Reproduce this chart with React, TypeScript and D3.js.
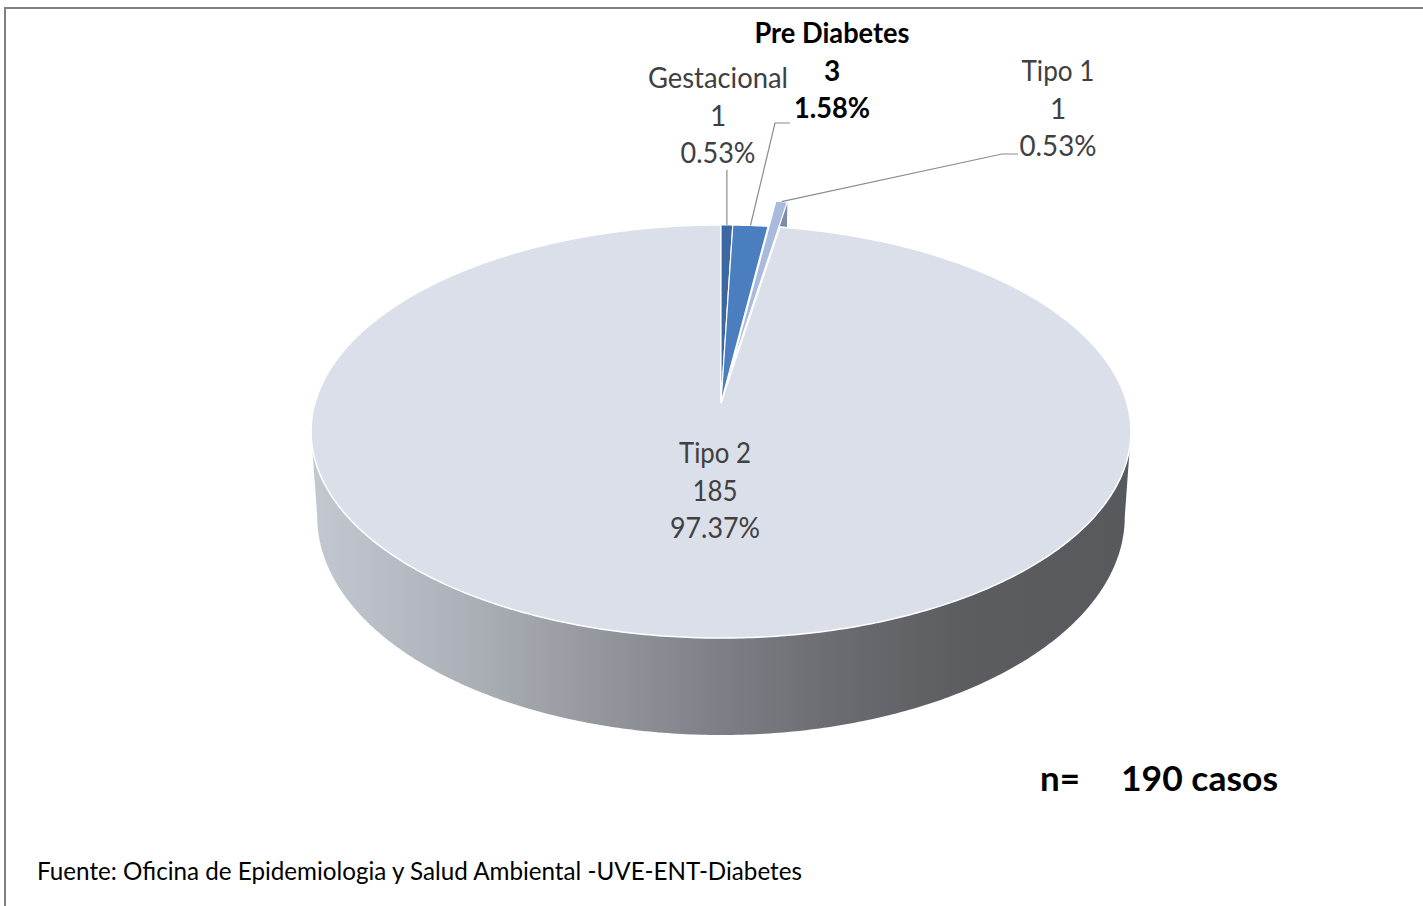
import * as d3 from "d3";

// datos: casos de diabetes por tipo
const categories = ["Gestacional", "Pre Diabetes", "Tipo 1", "Tipo 2"];
const counts = [1, 3, 1, 185];
const sliceColors = ["#3b68a1", "#4a7ebf", "#a9bbdc", "#dadfea"];
const explode = [0, 0, 0.165, 0];
const boldLabel = [false, true, false, false];
const totalText = "190 casos";
const sourceText = "Fuente: Oficina de Epidemiologia y Salud Ambiental -UVE-ENT-Diabetes";

// label layout: center x, first baseline, line widths, leader points (label side)
const labelLayout = [
  { x: 718, y: 88, w: [140, 0, 75], leader: [[727, 170]] },
  { x: 832, y: 43, w: [155, 0, 76], leader: [[790, 123], [775, 123]] },
  { x: 1058, y: 81, w: [73, 0, 77], leader: [[1018, 154], [1002, 154]] },
  { x: 715, y: 463, w: [72, 45, 90], leader: [] },
];

const W = 1423;
const H = 906;

// 3D pie projection (simple perspective)
const cx = 721;
const cy = 403;
const A = 202.6; // vertical radius factor
const B = 406; // horizontal radius factor
const K = 0.138; // perspective
const DEPTH = 83.6;
const SB = 0.985; // bottom shrink

type P = [number, number];

function proj(u: number, v: number, bottom = false): P {
  const s = 1 / (1 + K * v);
  const x = cx + B * u * s * (bottom ? SB : 1);
  const y = cy - A * v * s + (bottom ? DEPTH * s : 0);
  return [x, y];
}

function rim(a0: number, a1: number, off: [number, number], bottom = false): P[] {
  const n = Math.max(2, Math.ceil(Math.abs(a1 - a0) / 0.01));
  return d3.range(n + 1).map((i) => {
    const t = a0 + ((a1 - a0) * i) / n;
    return proj(Math.sin(t) + off[0], Math.cos(t) + off[1], bottom);
  });
}

const line = d3.line<P>().curve(d3.curveLinear);

export default function App() {
  const total = d3.sum(counts);
  const pie = d3.pie<number>().sort(null).startAngle(0).endAngle(2 * Math.PI)(counts);

  const slices = pie.map((a, i) => {
    const mid = (a.startAngle + a.endAngle) / 2;
    const off: [number, number] = [explode[i] * Math.sin(mid), explode[i] * Math.cos(mid)];
    const c = proj(off[0], off[1]);
    const top = "M" + c.join(",") + "L" + rim(a.startAngle, a.endAngle, off).map((p) => p.join(",")).join("L") + "Z";
    const midPt = proj(Math.sin(mid) + off[0], Math.cos(mid) + off[1]);
    return { a, i, off, top, mid, midPt };
  });

  // side of the big slice (front half)
  const tR = Math.acos(-K);
  const tL = 2 * Math.PI - tR;
  const sideTop = rim(tR, tL, [0, 0]);
  const sideBot = rim(tL, tR, [0, 0], true);
  const sidePath = line([...sideTop, ...sideBot]) + "Z";

  // exploded slice cut face (Tipo 1)
  const ex = slices[2];
  const e1 = ex.a.endAngle;
  const cutFace = line([
    proj(ex.off[0], ex.off[1]),
    proj(Math.sin(e1) + ex.off[0], Math.cos(e1) + ex.off[1]),
    proj(Math.sin(e1) + ex.off[0], Math.cos(e1) + ex.off[1], true),
    proj(ex.off[0], ex.off[1], true),
  ]) + "Z";
  const exSide = line([
    ...rim(ex.a.startAngle, ex.a.endAngle, ex.off),
    ...rim(ex.a.endAngle, ex.a.startAngle, ex.off, true),
  ]) + "Z";

  const font = "Lato, 'Open Sans', sans-serif";

  return (
    <svg width={W} height={H} style={{ position: "absolute", left: 0, top: 0, background: "#fff" }}>
      <defs>
        <linearGradient id="side" gradientUnits="userSpaceOnUse" x1={cx - B} x2={cx + B} y1={0} y2={0}>
          <stop offset="0" stopColor="#c3c8d0" />
          <stop offset="0.2" stopColor="#aaaeb5" />
          <stop offset="0.35" stopColor="#94979e" />
          <stop offset="0.5" stopColor="#7c7f85" />
          <stop offset="0.65" stopColor="#696b70" />
          <stop offset="0.8" stopColor="#5c5d61" />
          <stop offset="1" stopColor="#58595c" />
        </linearGradient>
      </defs>
      <rect x={5} y={8} width={1600} height={1200} fill="#fff" stroke="#7f7f7f" strokeWidth={2} />

      <path d={sidePath} fill="url(#side)" />
      <path d={exSide} fill="#8a9abb" />
      <path d={cutFace} fill="#7d8aa9" />
      <path d={slices[2].top} fill={sliceColors[2]} stroke="#fff" strokeWidth={1.2} />
      <path d={slices[3].top} fill={sliceColors[3]} stroke="#fff" strokeWidth={1.5} />
      {slices.slice(0, 2).map((s) => (
        <path key={s.i} d={s.top} fill={sliceColors[s.i]} stroke="#fff" strokeWidth={1.2} />
      ))}

      {slices.map((s) => {
        const L = labelLayout[s.i];
        if (!L.leader.length) return null;
        const pts: P[] = [...(L.leader as P[]), s.midPt];
        if (s.i === 0) pts[0] = [s.midPt[0], L.leader[0][1]];
        return <path key={"l" + s.i} d={line(pts)!} fill="none" stroke="#8c8c8c" strokeWidth={1.2} />;
      })}

      {slices.map((s) => {
        const L = labelLayout[s.i];
        const pct = ((counts[s.i] / total) * 100).toFixed(2) + "%";
        const lines = [categories[s.i], String(counts[s.i]), pct];
        const bold = boldLabel[s.i];
        return (
          <g key={"t" + s.i} fontFamily={font} fontSize={28} fontWeight={bold ? 700 : 400} fill={bold ? "#000" : "#404040"} textAnchor="middle">
            {lines.map((t, j) => (
              <text key={j} x={L.x} y={L.y + j * 37.5} textLength={L.w[j] || undefined} lengthAdjust="spacingAndGlyphs">
                {t}
              </text>
            ))}
          </g>
        );
      })}

      <text x={1040} y={791} fontFamily={font} fontSize={34} fontWeight={700} fill="#000" textLength={40} lengthAdjust="spacingAndGlyphs">n=</text>
      <text x={1121} y={791} fontFamily={font} fontSize={34} fontWeight={700} fill="#000" textLength={157} lengthAdjust="spacingAndGlyphs">{totalText}</text>
      <text x={37} y={880} fontFamily={font} fontSize={25} fill="#000" textLength={765} lengthAdjust="spacingAndGlyphs">{sourceText}</text>
    </svg>
  );
}
